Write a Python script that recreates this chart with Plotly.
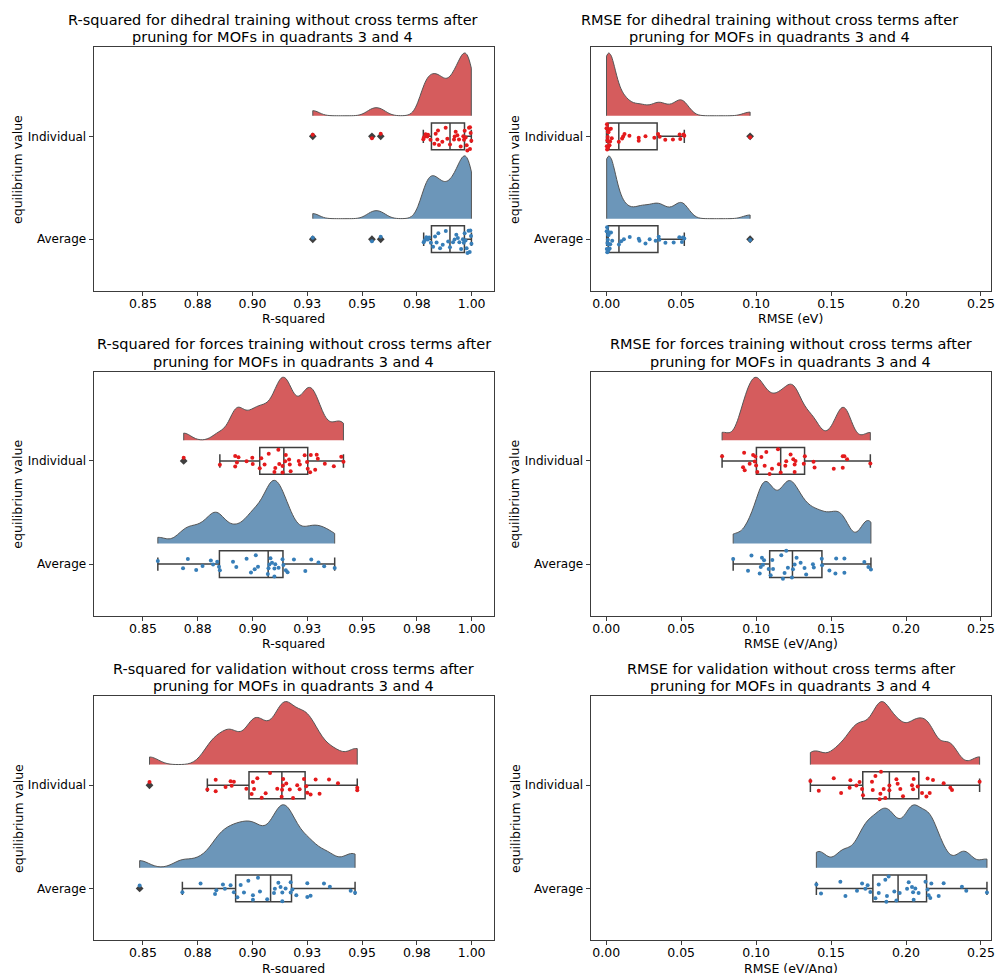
import numpy as np
import plotly.graph_objects as go

# ---------------- data ----------------
categories = ["Individual", "Average"]

dih_r2_ind = [0.9275, 0.9545, 0.9585, 0.97795, 0.97825, 0.97901, 0.97977, 0.98008, 0.9812,
              0.9830, 0.98358, 0.98434, 0.98464, 0.98510, 0.98662, 0.98814, 0.98890, 0.99012,
              0.99194, 0.99225, 0.99271, 0.99347, 0.99423, 0.99499, 0.99620, 0.99651, 0.99681,
              0.99727, 0.99772, 0.99803, 0.99879, 0.99924, 0.99924, 0.99955, 0.99985]
dih_r2_avg = [0.9275, 0.9545, 0.9585, 0.9781, 0.9786, 0.9793, 0.9800, 0.9806, 0.9814, 0.9824,
              0.9833, 0.9840, 0.9848, 0.9856, 0.9868, 0.9882, 0.9893, 0.9901, 0.9915, 0.9922,
              0.9930, 0.9937, 0.9944, 0.9952, 0.9960, 0.9964, 0.9968, 0.9972, 0.9977, 0.9981,
              0.9986, 0.9991, 0.9994, 0.9997, 0.9999]

dih_rmse_ind = [0.0002, 0.0004, 0.0005, 0.0006, 0.0008, 0.0009, 0.0010, 0.0011, 0.0012, 0.0013,
                0.0015, 0.0017, 0.0019, 0.0022, 0.0026, 0.0031, 0.0037,
                0.0084, 0.0106, 0.0113, 0.0122, 0.0155, 0.0217, 0.0217, 0.0262, 0.0321, 0.0346,
                0.0357, 0.0394, 0.0445, 0.0490, 0.0494, 0.0516, 0.0521, 0.0960]
dih_rmse_avg = [0.0003, 0.0004, 0.0006, 0.0007, 0.0008, 0.0010, 0.0011, 0.0012, 0.0013, 0.0014,
                0.0016, 0.0018, 0.0020, 0.0023, 0.0027, 0.0032, 0.0040,
                0.0085, 0.0100, 0.0118, 0.0157, 0.0217, 0.0222, 0.0262, 0.0290, 0.0330, 0.0350,
                0.0355, 0.0395, 0.0450, 0.0488, 0.0505, 0.0512, 0.0521, 0.0960]

frc_r2_ind = [0.8686, 0.8851, 0.8921, 0.8921, 0.8929, 0.8936, 0.8973, 0.8999, 0.9001, 0.9033,
              0.9040, 0.9055, 0.9074, 0.9100, 0.9104, 0.9118, 0.9122, 0.9137, 0.9137, 0.9149,
              0.9152, 0.9167, 0.9170, 0.9174, 0.9211, 0.9216, 0.9238, 0.9249, 0.9252, 0.9263,
              0.9266, 0.9286, 0.9293, 0.9298, 0.9330, 0.9371, 0.9405, 0.9415]
frc_r2_avg = [0.8568, 0.8683, 0.8705, 0.8743, 0.8772, 0.8810, 0.8820, 0.8839, 0.8847, 0.8851,
              0.8911, 0.8926, 0.8973, 0.8993, 0.9010, 0.9015, 0.9025, 0.9070, 0.9073, 0.9077,
              0.9082, 0.9089, 0.9100, 0.9100, 0.9104, 0.9119, 0.9137, 0.9141, 0.9152, 0.9160,
              0.9189, 0.9241, 0.9268, 0.9301, 0.9327, 0.9375]

frc_rmse_ind = [0.0773, 0.0913, 0.0920, 0.0924, 0.0957, 0.0980, 0.0991, 0.0995, 0.1000, 0.1008,
                0.1035, 0.1057, 0.1068, 0.1090, 0.1106, 0.1146, 0.1152, 0.1164, 0.1195, 0.1201,
                0.1230, 0.1248, 0.1257, 0.1257, 0.1263, 0.1318, 0.1325, 0.1383, 0.1390, 0.1518,
                0.1578, 0.1578, 0.1589, 0.1607, 0.1762]
frc_rmse_avg = [0.0847, 0.0946, 0.0969, 0.1024, 0.1031, 0.1039, 0.1046, 0.1053, 0.1084, 0.1097,
                0.1108, 0.1113, 0.1168, 0.1179, 0.1190, 0.1201, 0.1212, 0.1239, 0.1246, 0.1257,
                0.1270, 0.1297, 0.1323, 0.1334, 0.1379, 0.1385, 0.1438, 0.1440, 0.1489, 0.1529,
                0.1534, 0.1589, 0.1589, 0.1722, 0.1749, 0.1766]

val_r2_ind = [0.8530, 0.8794, 0.8832, 0.8832, 0.8877, 0.8900, 0.8905, 0.8915, 0.8972, 0.8996,
              0.9002, 0.9007, 0.9022, 0.9042, 0.9060, 0.9080, 0.9113, 0.9133, 0.9135, 0.9139,
              0.9140, 0.9154, 0.9170, 0.9185, 0.9204, 0.9215, 0.9235, 0.9245, 0.9250, 0.9265,
              0.9288, 0.9306, 0.9349, 0.9390, 0.9478, 0.9478]
val_r2_avg = [0.8485, 0.8680, 0.8763, 0.8829, 0.8835, 0.8865, 0.8874, 0.8900, 0.8915, 0.8931,
              0.8946, 0.8961, 0.8981, 0.9002, 0.9002, 0.9025, 0.9034, 0.9067, 0.9098, 0.9102,
              0.9118, 0.9128, 0.9136, 0.9136, 0.9151, 0.9174, 0.9174, 0.9182, 0.9200, 0.9250,
              0.9250, 0.9265, 0.9326, 0.9353, 0.9448, 0.9468]

val_rmse_ind = [0.1362, 0.1418, 0.1518, 0.1567, 0.1624, 0.1629, 0.1669, 0.1690, 0.1707, 0.1713,
                0.1773, 0.1778, 0.1796, 0.1824, 0.1829, 0.1833, 0.1851, 0.1862, 0.1889, 0.1889,
                0.1936, 0.1944, 0.1962, 0.1980, 0.2040, 0.2047, 0.2051, 0.2078, 0.2107, 0.2136,
                0.2144, 0.2158, 0.2180, 0.2251, 0.2296, 0.2307, 0.2491]
val_rmse_avg = [0.1402, 0.1433, 0.1562, 0.1596, 0.1673, 0.1707, 0.1729, 0.1744, 0.1762, 0.1796,
                0.1818, 0.1818, 0.1862, 0.1869, 0.1873, 0.1884, 0.1922, 0.1936, 0.1958, 0.2007,
                0.2018, 0.2040, 0.2047, 0.2051, 0.2062, 0.2084, 0.2130, 0.2144, 0.2151, 0.2162,
                0.2169, 0.2218, 0.2251, 0.2373, 0.2402, 0.2540]

r2_ticks = [0.85, 0.875, 0.90, 0.925, 0.95, 0.975, 1.00]
r2_ticktext = ["0.85", "0.88", "0.90", "0.93", "0.95", "0.98", "1.00"]
rmse_ticks = [0.00, 0.05, 0.10, 0.15, 0.20, 0.25]
rmse_ticktext = ["0.00", "0.05", "0.10", "0.15", "0.20", "0.25"]

panels = [
    dict(ind=dih_r2_ind, avg=dih_r2_avg, kind="r2", xlabel="R-squared",
         t1="R-squared for dihedral training without cross terms after"),
    dict(ind=dih_rmse_ind, avg=dih_rmse_avg, kind="rmse", xlabel="RMSE (eV)",
         t1="RMSE for dihedral training without cross terms after"),
    dict(ind=frc_r2_ind, avg=frc_r2_avg, kind="r2", xlabel="R-squared",
         t1="R-squared for forces training without cross terms after"),
    dict(ind=frc_rmse_ind, avg=frc_rmse_avg, kind="rmse", xlabel="RMSE (eV/Ang)",
         t1="RMSE for forces training without cross terms after"),
    dict(ind=val_r2_ind, avg=val_r2_avg, kind="r2", xlabel="R-squared",
         t1="R-squared for validation without cross terms after"),
    dict(ind=val_rmse_ind, avg=val_rmse_avg, kind="rmse", xlabel="RMSE (eV/Ang)",
         t1="RMSE for validation without cross terms after"),
]
title2 = "pruning for MOFs in quadrants 3 and 4"

# ---------------- styling / layout ----------------
W, H = 996, 973
FONT = "DejaVu Sans"
cloud_fill = {"Individual": "rgb(213,92,93)", "Average": "rgb(108,150,185)"}
dot_col = {"Individual": "rgb(228,26,28)", "Average": "rgb(55,126,184)"}
gray = "rgb(63,63,63)"
pos = {"Individual": 1.0, "Average": 0.0}

col_px = [(94, 496), (593, 995)]
row_px = [(47.3, 290.7), (371.7, 615.7), (696, 940)]
title_shift = [-21, 0, 0]
r2_range = [0.8275, 1.0102]
rmse_range = [-0.0104, 0.2567]
y_range = [-0.5, 1.865]

fig = go.Figure()
layout = dict(width=W, height=H, margin=dict(l=0, r=0, t=0, b=0),
              paper_bgcolor="white", plot_bgcolor="white", showlegend=False,
              font=dict(family=FONT, size=12.5, color="black"),
              violinmode="overlay", boxmode="overlay")
annotations = []

for k, p in enumerate(panels):
    r, c = divmod(k, 2)
    n = k + 1
    xa = "x" if n == 1 else f"x{n}"
    ya = "y" if n == 1 else f"y{n}"
    x0, x1 = col_px[c]
    top, bot = row_px[r]
    xdom = [x0 / W, x1 / W]
    ydom = [1 - bot / H, 1 - top / H]
    axkey = "xaxis" if n == 1 else f"xaxis{n}"
    aykey = "yaxis" if n == 1 else f"yaxis{n}"
    is_r2 = p["kind"] == "r2"
    layout[axkey] = dict(domain=xdom, anchor=ya, range=r2_range if is_r2 else rmse_range,
                         tickvals=r2_ticks if is_r2 else rmse_ticks,
                         ticktext=r2_ticktext if is_r2 else rmse_ticktext,
                         showgrid=False, zeroline=False, showline=True, mirror=True,
                         linecolor="rgb(60,60,60)", linewidth=1, ticks="outside",
                         ticklen=4, tickcolor="rgb(60,60,60)", ticklabelstandoff=-3,
                         ticklabeloverflow="allow",
                         tickfont=dict(family=FONT, size=12.5, color="black"))
    layout[aykey] = dict(domain=ydom, anchor=xa, range=y_range, type="linear",
                         tickvals=[pos[cat] for cat in categories], ticktext=categories,
                         showgrid=False, zeroline=False, showline=True, mirror=True,
                         linecolor="rgb(60,60,60)", linewidth=1, ticks="outside",
                         ticklen=4, tickcolor="rgb(60,60,60)",
                         tickfont=dict(family=FONT, size=12, color="black"))

    for cat, key in (("Individual", "ind"), ("Average", "avg")):
        vals = np.array(p[key], dtype=float)
        bw = 0.2 * vals.std(ddof=1)
        fig.add_trace(go.Violin(
            x=vals, y0=pos[cat] + 0.2, orientation="h", side="positive",
            spanmode="hard", bandwidth=bw, scalegroup=f"g{n}", scalemode="width",
            width=1.22, points=False, box_visible=False, meanline_visible=False,
            fillcolor=cloud_fill[cat], opacity=1,
            line=dict(color="rgb(85,85,85)", width=1),
            xaxis=xa, yaxis=ya, hoverinfo="skip"))
        fig.add_trace(go.Box(
            x=vals, y0=pos[cat], orientation="h", boxpoints="outliers",
            width=0.26, whiskerwidth=0.5, fillcolor="white",
            line=dict(color=gray, width=1.5),
            marker=dict(symbol="diamond", color=gray, size=6),
            xaxis=xa, yaxis=ya, hoverinfo="skip"))
        fig.add_trace(go.Box(
            x=vals, y0=pos[cat], orientation="h", boxpoints="all",
            jitter=1.0, pointpos=0, width=0.3,
            fillcolor="rgba(0,0,0,0)", line=dict(color="rgba(0,0,0,0)", width=0),
            marker=dict(color=dot_col[cat], size=4),
            xaxis=xa, yaxis=ya, hoverinfo="skip"))

    cx = (x0 + x1) / 2
    annotations.append(dict(text=p["t1"], x=(cx + title_shift[r]) / W, y=1 - (top - 27.5) / H,
                            xref="paper", yref="paper", xanchor="center", yanchor="middle",
                            showarrow=False, font=dict(family=FONT, size=14.5, color="black")))
    annotations.append(dict(text=title2, x=(cx + title_shift[r]) / W, y=1 - (top - 10) / H,
                            xref="paper", yref="paper", xanchor="center", yanchor="middle",
                            showarrow=False, font=dict(family=FONT, size=14.5, color="black")))
    annotations.append(dict(text=p["xlabel"], x=cx / W, y=1 - (bot + 28) / H,
                            xref="paper", yref="paper", xanchor="center", yanchor="middle",
                            showarrow=False, font=dict(family=FONT, size=12.5, color="black")))
    annotations.append(dict(text="equilibrium value", x=(x0 - 76) / W, y=1 - ((top + bot) / 2) / H,
                            xref="paper", yref="paper", xanchor="center", yanchor="middle",
                            textangle=-90, showarrow=False,
                            font=dict(family=FONT, size=12.5, color="black")))

layout["annotations"] = annotations
fig.update_layout(**layout)
fig.write_html("out.html")
